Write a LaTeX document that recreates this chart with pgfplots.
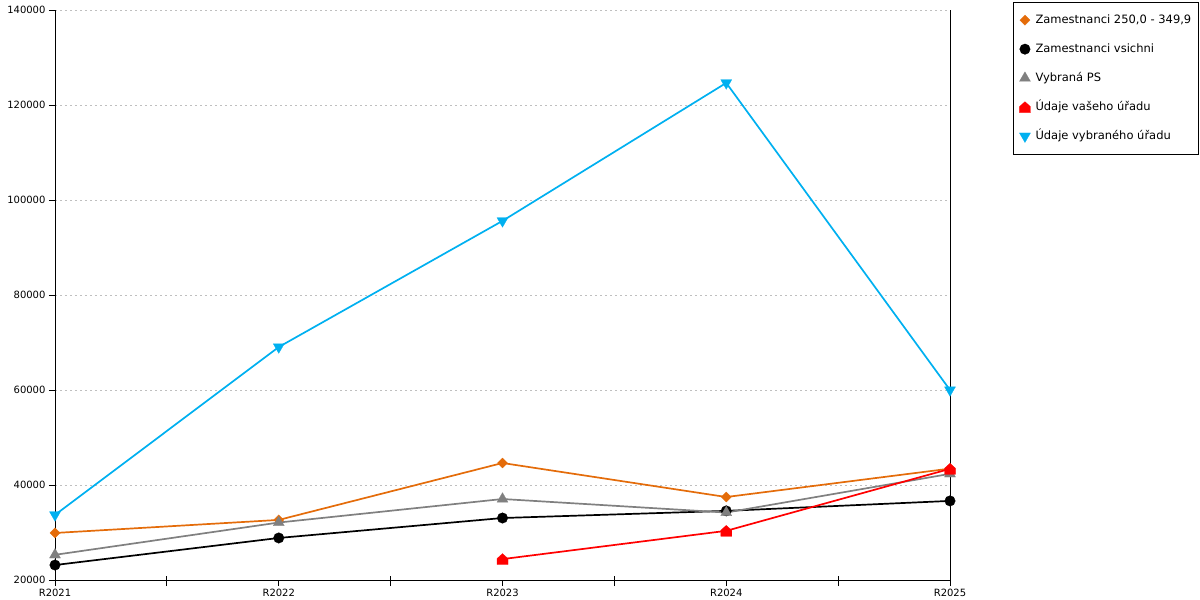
\documentclass[border=0pt]{standalone}
\usepackage{pgfplots}
\pgfplotsset{compat=1.18}
\usepackage{fontspec}
\setmainfont{DejaVu Sans}
\definecolor{corange}{RGB}{228,108,10}
\definecolor{cgray}{RGB}{128,128,128}
\definecolor{cred}{RGB}{255,0,0}
\definecolor{cblue}{RGB}{0,176,240}
\makeatletter
\pgfdeclareplotmark{house}{%
  \pgfpathmoveto{\pgfqpoint{-\pgfplotmarksize}{-\pgfplotmarksize}}%
  \pgfpathlineto{\pgfqpoint{\pgfplotmarksize}{-\pgfplotmarksize}}%
  \pgfpathlineto{\pgfqpoint{\pgfplotmarksize}{0.1\pgfplotmarksize}}%
  \pgfpathlineto{\pgfqpoint{0pt}{\pgfplotmarksize}}%
  \pgfpathlineto{\pgfqpoint{-\pgfplotmarksize}{0.1\pgfplotmarksize}}%
  \pgfpathclose
  \pgfusepathqfillstroke}
\makeatother
\begin{document}
\begin{tikzpicture}
\path[use as bounding box] (0,0) rectangle (1200pt,600pt);
\begin{axis}[
  at={(55pt,20pt)}, anchor=south west,
  scale only axis, width=895pt, height=570pt,
  xmin=0, xmax=4, ymin=20000, ymax=140000,
  axis x line*=bottom, axis y line*=box,
  ytick pos=left,
  xtick={0,1,2,3,4},
  xticklabels={R2021,R2022,R2023,R2024,R2025},
  minor xtick={0.5,1.5,2.5,3.5},
  ytick={20000,40000,60000,80000,100000,120000,140000},
  scaled y ticks=false,
  yticklabel style={/pgf/number format/fixed,/pgf/number format/1000 sep={}},
  /pgf/number format/assume math mode=true,
  tick label style={font=\fontsize{10}{12}\selectfont},
  tick align=outside,
  major tick length=6pt, minor tick length=10pt,
  every minor tick/.append style={yshift=4pt},
  tick style={black, line width=0.8pt},
  axis line style={black, line width=0.8pt},
  ymajorgrids,
  major grid style={gray!50, line width=0.6pt, dash pattern=on 2pt off 3pt},
  legend cell align=left,
  legend image code/.code={\draw[#1] plot coordinates {(0pt,0pt)};},
  legend style={at={(1.0704,1.014)}, anchor=north west,
    draw=black, line width=0.8pt,
    font=\fontsize{11.5}{14}\selectfont,
    inner xsep=6pt, inner ysep=11pt, row sep=15.5pt,
    /tikz/every odd column/.append style={column sep=4pt},
    nodes={inner sep=1pt, text height=9pt, text depth=2.5pt}},
  every axis plot/.append style={line width=1.7pt},
]
\addplot[corange, mark=square*, mark size=3.6pt, mark options={rotate=45, fill=corange, draw=corange, line width=0.2pt}]
  coordinates {(0,29900) (1,32650) (2,44630) (3,37470) (4,43450)};
\addlegendentry{Zamestnanci 250,0 - 349,9}
\addplot[black, mark=*, mark size=5.3pt, mark options={fill=black, line width=0.2pt}]
  coordinates {(0,23150) (1,28850) (2,33050) (3,34550) (4,36650)};
\addlegendentry{Zamestnanci vsichni}
\addplot[cgray, mark=triangle*, mark size=6.4pt, mark options={fill=cgray, draw=cgray, line width=0.2pt}]
  coordinates {(0,25300) (1,32100) (2,37050) (3,34200) (4,42350)};
\addlegendentry{Vybraná PS}
\addplot[cred, mark=house, mark size=5.5pt, mark options={fill=cred, draw=cred, line width=0.2pt}]
  coordinates {(2,24400) (3,30350) (4,43400)};
\addlegendentry{Údaje vašeho úřadu}
\addplot[cblue, mark=triangle*, mark size=6.4pt, mark options={rotate=180, fill=cblue, draw=cblue, line width=0.2pt}]
  coordinates {(0,33700) (1,69050) (2,95600) (3,124650) (4,60000)};
\addlegendentry{Údaje vybraného úřadu}
\end{axis}
\end{tikzpicture}
\end{document}
